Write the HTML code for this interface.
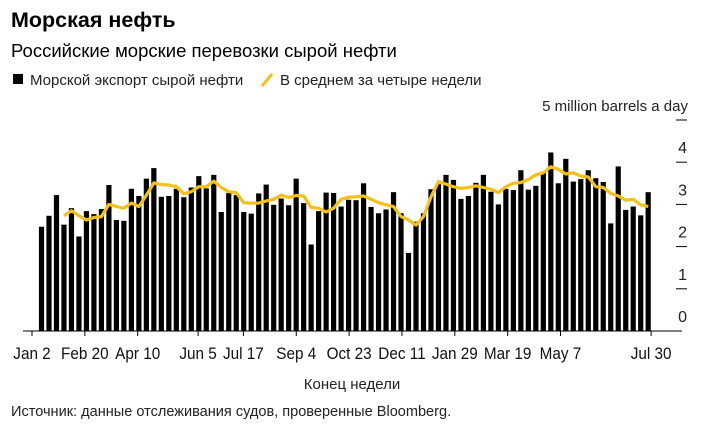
<!DOCTYPE html>
<html><head><meta charset="utf-8"><style>
body{margin:0;background:#fff;width:706px;height:427px;overflow:hidden;font-family:"Liberation Sans",sans-serif}
svg{display:block}
</style></head><body>
<svg id="chart" width="706" height="427" font-family="'Liberation Sans', sans-serif">
<text x="11" y="27" font-size="21.5" font-weight="bold" fill="#000">Морская нефть</text>
<text x="11" y="57" font-size="18.5" fill="#000">Российские морские перевозки сырой нефти</text>
<g>
<rect x="13" y="74" width="10" height="10" fill="#000"/>
<text x="30" y="85" font-size="15" fill="#222">Морской экспорт сырой нефти</text>
<line x1="262" y1="86" x2="272" y2="74" stroke="#f5c118" stroke-width="3"/>
<text x="280" y="85" font-size="15" fill="#222">В среднем за четыре недели</text>
</g>
<text x="688" y="111" font-size="15" text-anchor="end" fill="#222">5 million barrels a day</text>
<g id="yaxis"></g>
<g id="bars"></g>
<path id="avg" fill="none" stroke="#f5c118" stroke-width="3.2" stroke-linejoin="round"/>
<line x1="23" y1="331" x2="682" y2="331" stroke="#000" stroke-width="1"/>
<g id="xaxis"></g>
<text x="352" y="389" font-size="15" text-anchor="middle" fill="#222">Конец недели</text>
<text x="11" y="416" font-size="15" fill="#222" transform="translate(11,0) scale(0.97,1) translate(-11,0)">Источник: данные отслеживания судов, проверенные Bloomberg.</text>
</svg>
<script>
const exports = [2.47,2.73,3.22,2.52,2.91,2.24,2.84,2.77,2.89,3.46,2.63,2.61,3.37,3.20,3.61,3.86,3.18,3.20,3.37,3.17,3.40,3.67,3.38,3.70,2.82,3.27,3.22,2.82,2.78,3.26,3.47,2.99,3.14,2.98,3.61,3.03,2.05,2.84,3.28,3.27,2.95,3.11,3.10,3.50,2.94,2.79,2.88,3.29,2.79,1.85,2.59,2.79,3.36,3.48,3.70,3.58,3.13,3.20,3.51,3.70,3.30,3.00,3.37,3.34,3.81,3.35,3.44,3.77,4.23,3.50,4.08,3.54,3.60,3.81,3.62,3.53,2.55,3.90,2.87,2.95,2.74,3.29];
const average = [null,null,null,2.73,2.85,2.73,2.63,2.69,2.71,3.00,2.95,2.91,3.03,2.95,3.22,3.51,3.47,3.46,3.42,3.25,3.30,3.42,3.42,3.55,3.40,3.30,3.28,3.04,3.03,3.03,3.08,3.12,3.22,3.16,3.21,3.20,2.93,2.91,2.82,2.91,3.12,3.17,3.18,3.20,3.12,3.04,2.99,2.95,2.71,2.63,2.51,2.71,3.18,3.54,3.48,3.42,3.38,3.40,3.44,3.40,3.36,3.28,3.42,3.50,3.52,3.59,3.70,3.75,3.89,3.83,3.72,3.75,3.67,3.65,3.42,3.40,3.26,3.20,3.10,3.12,2.99,2.95];
const yTicks = [0,1,2,3,4,5];
const xTickWeeks = [0,7,14,22,28,35,42,49,56,63,70,82];
const xTickLabels = ["Jan 2","Feb 20","Apr 10","Jun 5","Jul 17","Sep 4","Oct 23","Dec 11","Jan 29","Mar 19","May 7","Jul 30"];

const NS="http://www.w3.org/2000/svg";
const weekX = w => 32 + 7.55*w;
const barX = i => 41.5 + 7.49*i;
const y = v => 331 - 42.2*v;

const ya=document.getElementById('yaxis');
yTicks.forEach(t=>{
  if(t>0){
    const l=document.createElementNS(NS,'line');
    l.setAttribute('x1',676);l.setAttribute('x2',687);l.setAttribute('y1',y(t));l.setAttribute('y2',y(t));
    l.setAttribute('stroke','#000');l.setAttribute('stroke-width','1');
    
    
    ya.appendChild(l);
  }
  if(t<5){
    const tx=document.createElementNS(NS,'text');
    tx.setAttribute('x',687);tx.setAttribute('y',y(t)-9);tx.setAttribute('text-anchor','end');
    tx.setAttribute('font-size','16');tx.setAttribute('fill','#222');
    tx.textContent=t;
    
    
    ya.appendChild(tx);
  }
});

const bg=document.getElementById('bars');
exports.forEach((v,i)=>{
  const cx=barX(i);
  const r=document.createElementNS(NS,'rect');
  r.setAttribute('x',cx-2.6);r.setAttribute('width',5.2);
  r.setAttribute('y',y(v));r.setAttribute('height',y(0)-y(v));
  r.setAttribute('fill','#000');
  
  
  bg.appendChild(r);
});

let d='';
average.forEach((v,i)=>{
  if(v===null) return;
  const cx=barX(i);
  d+=(d?'L':'M')+cx.toFixed(1)+','+y(v).toFixed(1);
});
document.getElementById('avg').setAttribute('d',d);

const xa=document.getElementById('xaxis');
xTickWeeks.forEach((w,i)=>{
  const x=weekX(w);
  const l=document.createElementNS(NS,'line');
  l.setAttribute('x1',x);l.setAttribute('x2',x);l.setAttribute('y1',331);l.setAttribute('y2',336);
  l.setAttribute('stroke','#000');
  
  
  xa.appendChild(l);
  const tx=document.createElementNS(NS,'text');
  tx.setAttribute('x',x);tx.setAttribute('y',359);tx.setAttribute('text-anchor','middle');
  tx.setAttribute('font-size','17');tx.setAttribute('fill','#111');
  tx.setAttribute('transform','translate('+x+',0) scale(0.9,1) translate('+(-x)+',0)');
  tx.textContent=xTickLabels[i];
  
  
  xa.appendChild(tx);
});
</script>
</body></html>
